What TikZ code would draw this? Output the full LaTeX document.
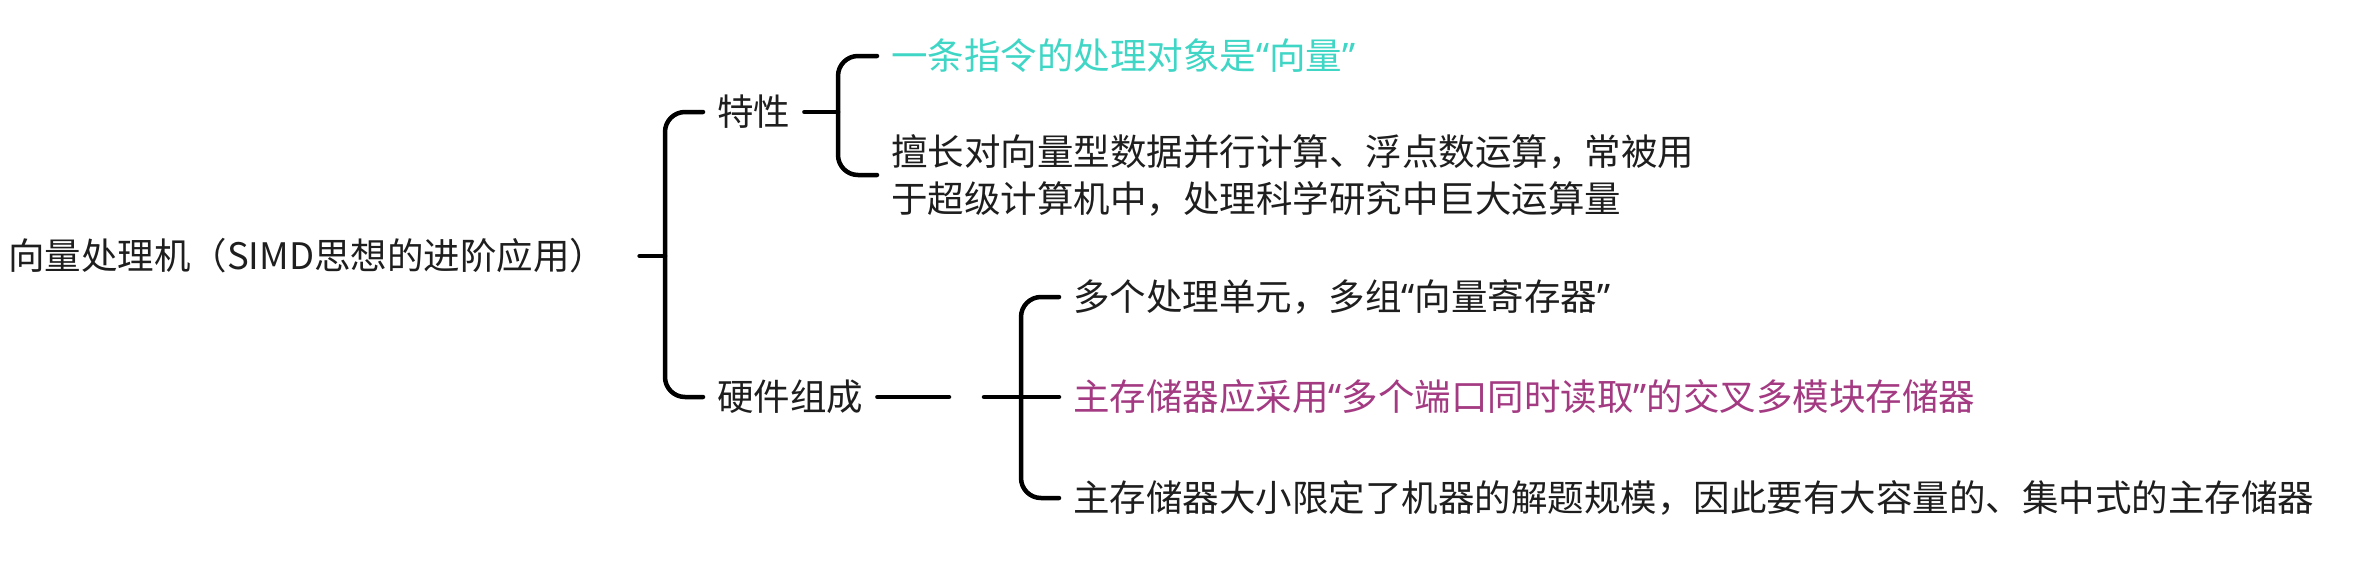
\documentclass[tikz,border=0pt]{standalone}
\usepackage{fontspec}
\newfontfamily\cjk{Noto Sans CJK SC}
\newfontfamily\latq{Noto Sans}
\newcommand{\qopen}{{\latq “}}
\newcommand{\qclose}{{\latq ”}}
\definecolor{tcyan}{HTML}{3FD6C6}
\definecolor{tmag}{HTML}{A33A82}
\definecolor{tink}{HTML}{1E1E1E}
\tikzset{
  base/.style={inner xsep=14pt, inner ysep=0pt, anchor=west, text=tink,
    font=\cjk\fontsize{36.5}{47}\selectfont},
  txt/.style={base, text height=32pt, text depth=4.5pt},
  twoline/.style={base, align=left},
  conn/.style={draw=black, line width=4.5pt, line cap=round, rounded corners=20pt},
}
\begin{document}
\begin{tikzpicture}[x=1pt,y=-1pt]
\useasboundingbox[fill=white] (0,0) rectangle (2368,571);
% nodes
\node[txt, inner xsep=0pt] (root) at (8,256) {向量处理机（SIMD思想的进阶应用）};
\node[txt] (feat) at (703,112) {特性};
\node[txt] (hw) at (703,397) {硬件组成};
\node[txt, text=tcyan] (c1) at (877,56) {一条指令的处理对象是\qopen 向量\qclose};
\node[twoline] (c2) at (877,175) {擅长对向量型数据并行计算、浮点数运算，常被用\\于超级计算机中，处理科学研究中巨大运算量};
\node[txt] (h1) at (1059,297) {多个处理单元，多组\qopen 向量寄存器\qclose};
\node[txt, text=tmag] (h2) at (1059,397) {主存储器应采用\qopen 多个端口同时读取\qclose 的交叉多模块存储器};
\node[txt] (h3) at (1059,498) {主存储器大小限定了机器的解题规模，因此要有大容量的、集中式的主存储器};
% junctions
\coordinate (j1) at (665,256);
\coordinate (j2) at (838,112);
\coordinate (j3) at (1021,397);
\coordinate (g1) at (949,397);
\coordinate (g2) at (984,397);
% connectors
\draw[conn] ([xshift=33pt]root.east) -- (j1);
\draw[conn] (feat.west) -| (j1) |- (hw.west);
\draw[conn] (feat.east) -- (j2);
\draw[conn] (c1.west) -| (j2) |- (c2.west);
\draw[conn] (hw.east) -- (g1);
\draw[conn] (g2) -- (j3);
\draw[conn] (h1.west) -| (j3) |- (h3.west);
\draw[conn] (j3) -- (h2.west);
\end{tikzpicture}
\end{document}
